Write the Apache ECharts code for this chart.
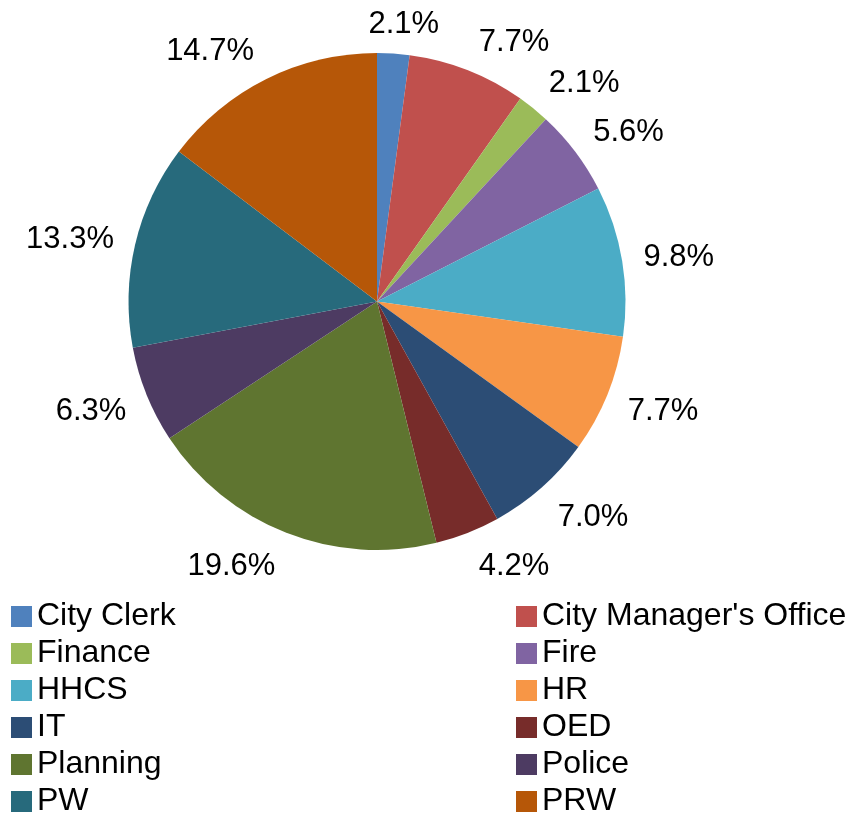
<!DOCTYPE html>
<html>
<head>
<meta charset="utf-8">
<script src="https://cdn.jsdelivr.net/npm/echarts@6/dist/echarts.min.js"></script>
<style>
html,body{margin:0;padding:0;background:#fff;}
#chart{width:848px;height:814px;}
</style>
</head>
<body>
<div id="chart"></div>
<script>
const categories = ["City Clerk","City Manager's Office","Finance","Fire","HHCS","HR","IT","OED","Planning","Police","PW","PRW"];
const shares = [2.1,7.7,2.1,5.6,9.8,7.7,7.0,4.2,19.6,6.3,13.3,14.7];
const colors = ["#4F81BD","#C0504D","#9BBB59","#8064A2","#4BACC6","#F79646","#2C4D75","#772C2A","#5F7530","#4D3B62","#276A7C","#B65708"];

const leftNames = categories.filter((_, i) => i % 2 === 0);
const rightNames = categories.filter((_, i) => i % 2 === 1);

const FONT = "'Liberation Sans', Arial, Helvetica, sans-serif";
const CX = 377, CY = 301.5, R = 248.5, GAP = 16.5, PAD = 5;

// mid angle of each slice (radians, clockwise from 12 o'clock)
const total = shares.reduce((a, b) => a + b, 0);
const midAngles = [];
{
  let acc = 0;
  shares.forEach(v => { midAngles.push((acc + v / 2) / total * 2 * Math.PI); acc += v; });
}
const clamp = v => Math.max(-1, Math.min(1, v));

const chart = echarts.init(document.getElementById('chart'));
const legendCommon = {
  orient: 'vertical',
  top: 595.5,
  height: 260,
  itemWidth: 21,
  itemHeight: 21,
  itemGap: 5,
  icon: 'rect',
  textStyle: {fontFamily: FONT, fontSize: 32, lineHeight: 32, color: '#000'},
  selectedMode: false
};
chart.setOption({
  animation: false,
  color: colors,
  legend: [
    Object.assign({left: 6, data: leftNames}, legendCommon),
    Object.assign({left: 511, data: rightNames}, legendCommon)
  ],
  series: [{
    type: 'pie',
    center: [CX, CY],
    radius: R,
    startAngle: 90,
    clockwise: true,
    avoidLabelOverlap: false,
    data: categories.map((n, i) => ({name: n, value: shares[i]})),
    label: {
      show: true,
      position: 'outside',
      formatter: p => p.value.toFixed(1) + '%',
      fontFamily: FONT,
      fontSize: 31,
      lineHeight: 31,
      color: '#000'
    },
    labelLine: {show: false, length: 14, length2: 0},
    labelLayout: function (params) {
      const a = midAngles[params.dataIndex];
      const s = Math.sin(a), c = Math.cos(a);
      const w = params.labelRect.width, h = params.labelRect.height;
      const d = R + GAP;
      const x = CX + d * s + (w / 2 + PAD) * clamp(3.5 * s);
      const y = CY - d * c - (h / 2) * clamp(1.3 * c) + 3;
      return {x: x, y: y, align: 'center', verticalAlign: 'middle'};
    },
    itemStyle: {borderWidth: 0}
  }]
});
</script>
</body>
</html>
